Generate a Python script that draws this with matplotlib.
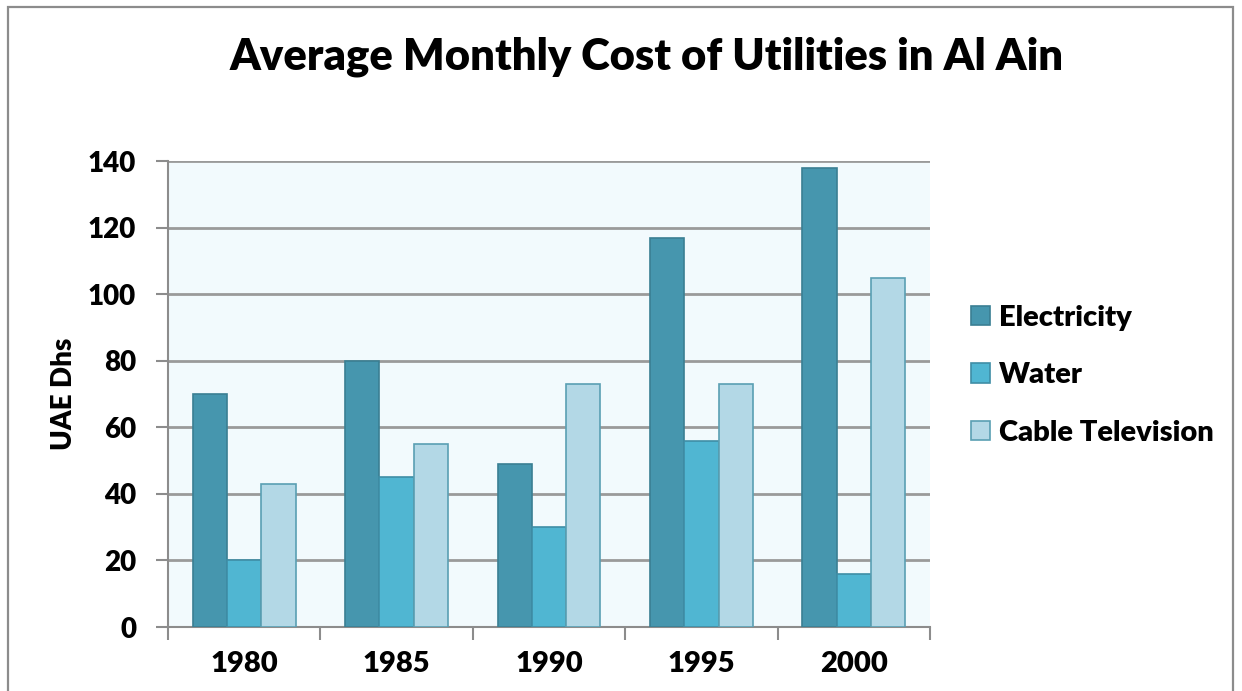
import matplotlib.pyplot as plt
import matplotlib.patches as mpatches
import numpy as np

plt.rcParams['font.family'] = ['Lato', 'DejaVu Sans']
plt.rcParams['font.weight'] = 'heavy'

years = ["1980", "1985", "1990", "1995", "2000"]
electricity = [70, 80, 49, 117, 138]
water = [20, 45, 30, 56, 16]
cable_tv = [43, 55, 73, 73, 105]

series = [("Electricity", electricity, "#4696ae", "#3a7f93"),
          ("Water", water, "#50b6d2", "#3f8ea6"),
          ("Cable Television", cable_tv, "#b3d8e6", "#5a9fb3")]

fig = plt.figure(figsize=(12.42, 6.91), dpi=100)
ax = fig.add_axes([168 / 1242, 1 - 627 / 691, (930 - 168) / 1242, (627 - 161) / 691])

# outer frame of the chart
fig.patches.append(mpatches.Rectangle((8 / 1242, -0.05), (1233 - 8) / 1242, 1.05 - 7 / 691,
                                      transform=fig.transFigure, fill=False,
                                      edgecolor="#8c8c8c", linewidth=1.6))

x = np.arange(len(years))
w = 0.225
for i, (name, vals, col, edge) in enumerate(series):
    ax.bar(x + (i - 1) * w, vals, w, color=col, edgecolor=edge, linewidth=1.2,
           label=name, zorder=3)

ax.set_facecolor("#f2fafd")
ax.set_xlim(-0.5, len(years) - 0.5)
ax.set_ylim(0, 140)
ax.set_yticks(range(0, 141, 20))
ax.yaxis.grid(True, color="#9a9a9a", linewidth=2, zorder=1)
ax.set_axisbelow(True)

ax.set_xticks(np.arange(-0.5, len(years), 1))
ax.set_xticklabels([])
ax.set_xticks(x, minor=True)
ax.set_xticklabels(years, minor=True, fontsize=21, fontweight="heavy")
ax.tick_params(axis="x", which="minor", length=0, pad=17)
ax.tick_params(axis="x", which="major", length=9, width=1.5, color="#8c8c8c")
ax.tick_params(axis="y", length=9, width=1.5, color="#8c8c8c", labelsize=20, pad=14)
for lbl in ax.get_yticklabels():
    lbl.set_fontweight("heavy")

for s in ["top", "right"]:
    ax.spines[s].set_visible(False)
for s in ["left", "bottom"]:
    ax.spines[s].set_color("#8c8c8c")
    ax.spines[s].set_linewidth(1.5)

ax.set_ylabel("UAE Dhs", fontsize=20, fontweight="heavy", labelpad=8)
fig.text(647 / 1242, 1 - 57 / 691, "Average Monthly Cost of Utilities in Al Ain",
         ha="center", va="center", fontsize=31.3, fontweight="heavy")

ax.legend(loc="center left", bbox_to_anchor=(1.02, 0.54), frameon=False,
          prop={"size": 21, "weight": "heavy"}, handlelength=0.65, handleheight=0.65,
          handletextpad=0.3, labelspacing=1.08)

fig.savefig("out.png", dpi=100)
